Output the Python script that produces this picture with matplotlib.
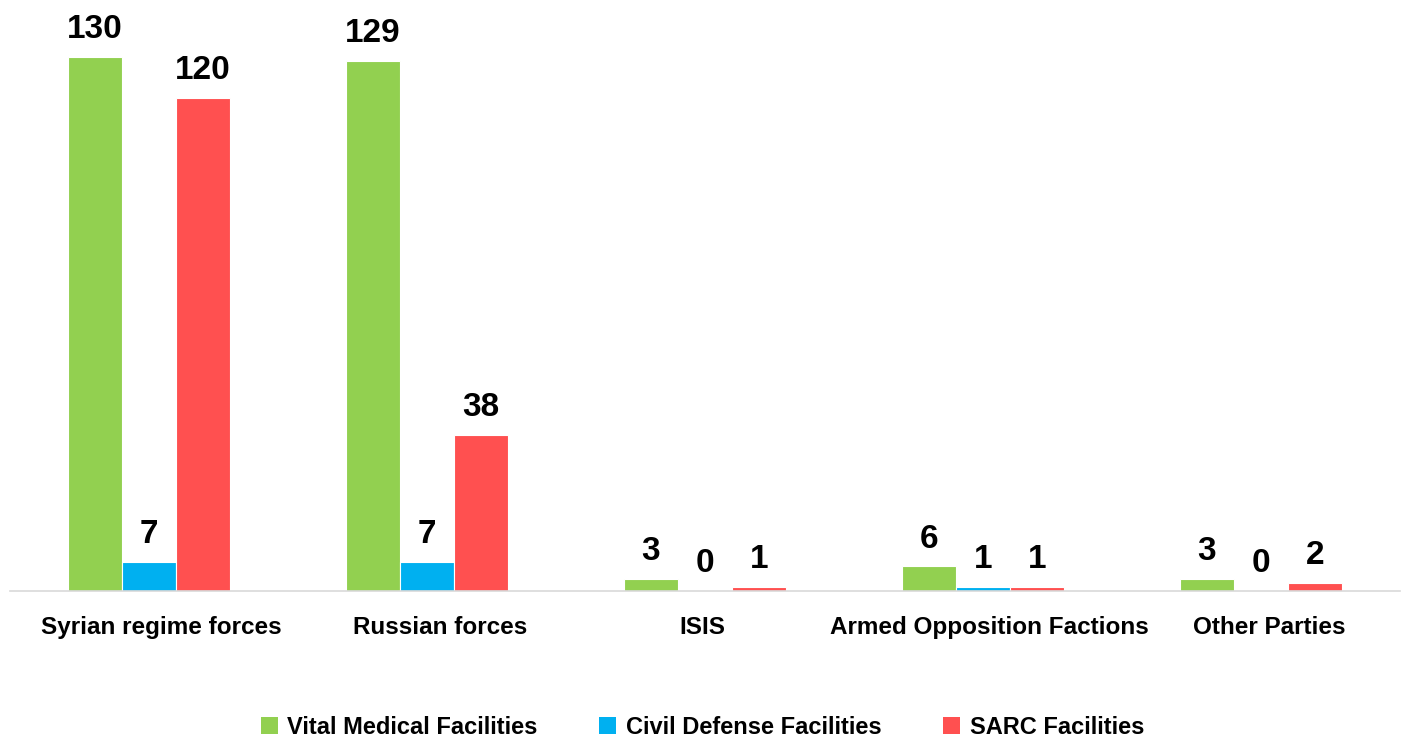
import numpy as np
import matplotlib.pyplot as plt
import matplotlib.transforms as mtransforms
from matplotlib.patches import Patch

plt.rcParams['font.family'] = ['Liberation Sans', 'DejaVu Sans']
plt.rcParams['font.weight'] = 'bold'

categories = ['Syrian regime forces', 'Russian forces', 'ISIS',
              'Armed Opposition Factions', 'Other Parties']
series_names = ['Vital Medical Facilities', 'Civil Defense Facilities', 'SARC Facilities']
vital = [130, 129, 3, 6, 3]
civil = [7, 7, 0, 1, 0]
sarc = [120, 38, 1, 1, 2]
colors = ['#92D050', '#00B0F0', '#FF5050']

fig = plt.figure(figsize=(14.05, 7.38), dpi=100)
ax = fig.add_axes([10 / 1405, 1 - 591 / 738, 1390 / 1405, (591 - 20) / 738])

x = np.arange(len(categories))
w = 0.195
for i, (vals, col) in enumerate(zip([vital, civil, sarc], colors)):
    pos = x + (i - 1) * w
    ax.bar(pos, vals, width=w, color=col, edgecolor='white', linewidth=0.8)
    for p, v in zip(pos, vals):
        ax.annotate(str(v), (p, v), xytext=(0, 13.5), textcoords='offset points',
                    ha='center', va='baseline', fontsize=24, fontweight='bold')

ax.set_xlim(-0.5, len(categories) - 0.5)
ax.set_ylim(0, 139)
ax.set_xticks(x)
ax.set_xticklabels(categories, fontsize=17.5, fontweight='bold')
ax.tick_params(axis='x', length=0, pad=18)

# labels in the original sit slightly off the group centres (pixels)
label_shift = [12, 13, -3, 6, 8]
for lbl, dx in zip(ax.get_xticklabels(), label_shift):
    lbl.set_transform(lbl.get_transform() +
                      mtransforms.ScaledTranslation(dx / 100, 0, fig.dpi_scale_trans))

ax.set_yticks([])
for s in ['top', 'left', 'right']:
    ax.spines[s].set_visible(False)
ax.spines['bottom'].set_color('#D9D9D9')
ax.spines['bottom'].set_linewidth(1.2)

handles = [Patch(facecolor=c, edgecolor='none') for c in colors]
fig.legend(handles, series_names, loc='center', bbox_to_anchor=(0.5, 1 - 727 / 738),
           ncol=3, frameon=False, handlelength=0.72, handleheight=0.72,
           handletextpad=0.42, columnspacing=2.6, prop={'weight': 'bold', 'size': 17})

fig.savefig('out.png', dpi=100)
